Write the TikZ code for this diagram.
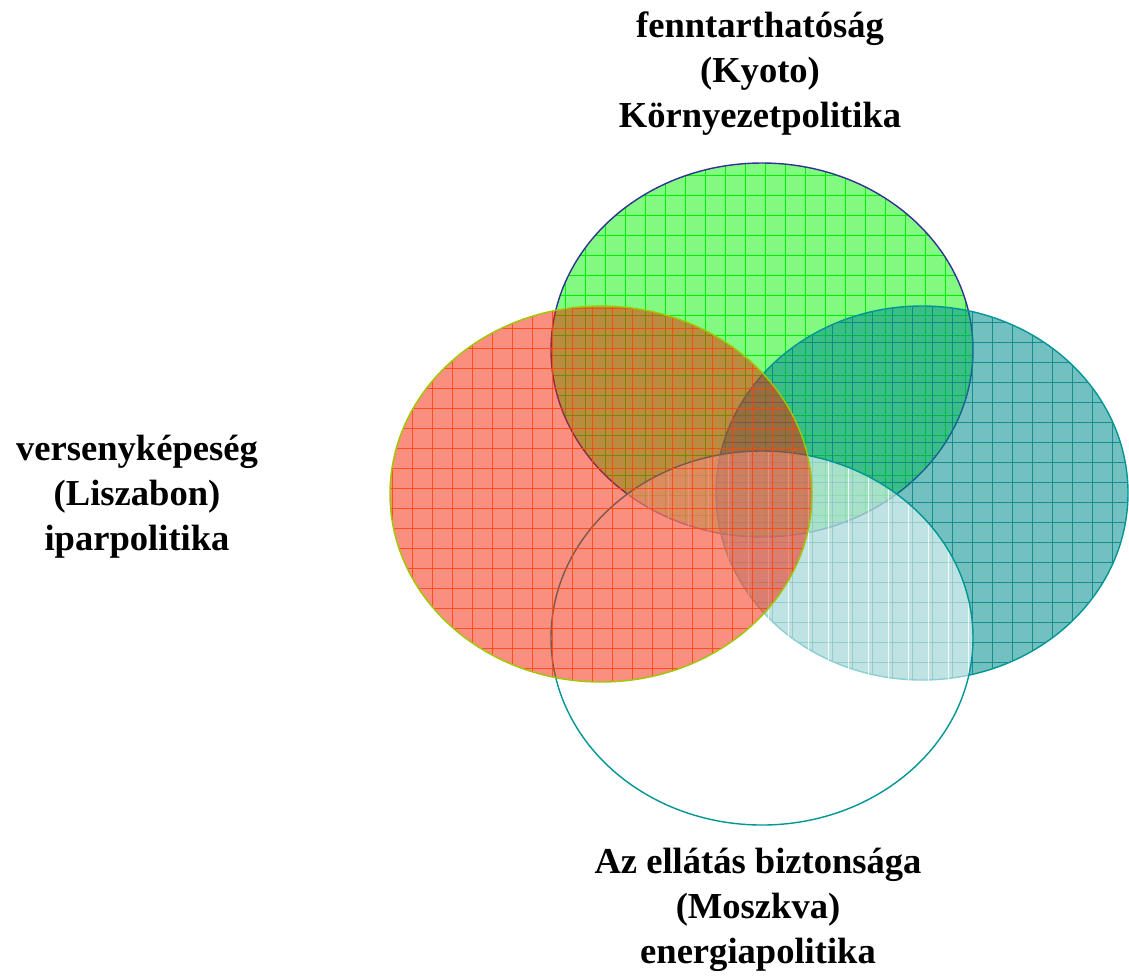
\documentclass[tikz,border=0pt]{standalone}
\usepackage{fontspec}
\setmainfont{Liberation Serif}
\usetikzlibrary{positioning}

\definecolor{kyotoFill}{RGB}{130,250,130}
\definecolor{kyotoGrid}{RGB}{0,238,0}
\definecolor{kyotoEdge}{RGB}{50,50,150}
\definecolor{lisFill}{RGB}{245,30,0}
\definecolor{lisGrid}{RGB}{255,70,10}
\definecolor{lisEdge}{RGB}{160,200,0}
\definecolor{tealFill}{RGB}{0,140,140}
\definecolor{tealGrid}{RGB}{0,130,130}
\definecolor{tealEdge}{RGB}{0,150,150}

\begin{document}
\begin{tikzpicture}[x=0.025cm, y=-0.025cm,
  policy/.style={font=\fontsize{26}{32}\selectfont\bfseries, align=center},
  edge/.style={line width=1pt}]
\useasboundingbox (0,0) rectangle (1129,976);

% === GREEN: fenntarthatosag ===
\fill[kyotoFill] (762,350) ellipse (211 and 187);
\begin{scope}
  \clip (762,350) ellipse (211 and 187);
  \foreach \g in {0,20,...,440} {
    \draw[kyotoGrid, line width=0.6pt] (545+\g,155) -- +(0,400);
    \draw[kyotoGrid, line width=0.6pt] (545,155+\g) -- +(440,0);
  }
\end{scope}
\draw[edge, kyotoEdge] (762,350) ellipse (211 and 187);

% === TEAL: right ===
\begin{scope}
  \fill[tealFill, opacity=0.55] (922,493) ellipse (206 and 187);
  \clip (922,493) ellipse (206 and 187);
  \foreach \g in {0,20,...,440} {
    \draw[tealGrid, opacity=0.8, line width=0.6pt] (712+\g,300) -- +(0,400);
    \draw[tealGrid, opacity=0.8, line width=0.6pt] (710,302+\g) -- +(440,0);
  }
\end{scope}
\draw[edge, tealEdge] (922,493) ellipse (206 and 187);

% === BOTTOM: ellatas biztonsaga ===
\begin{scope}
  \fill[white, opacity=0.55] (762,638) ellipse (211 and 187);
  \clip (762,638) ellipse (211 and 187);
  \foreach \g in {0,20,...,440} {
    \draw[white, opacity=0.8, line width=0.6pt] (548+\g,445) -- +(0,400);
  }
\end{scope}
\draw[edge, tealEdge] (762,638) ellipse (211 and 187);

% === RED: versenykepesseg ===
\begin{scope}
  \fill[lisFill, opacity=0.5] (601,494) ellipse (211 and 188);
  \clip (601,494) ellipse (211 and 188);
  \foreach \g in {0,20,...,440} {
    \draw[lisGrid, opacity=0.85, line width=0.6pt] (392+\g,300) -- +(0,400);
    \draw[lisGrid, opacity=0.85, line width=0.6pt] (385,308+\g) -- +(440,0);
  }
\end{scope}
\draw[edge, lisEdge] (601,494) ellipse (211 and 188);

% === LABELS ===
\node[policy] (kyoto) at (760,74) {fenntarthatóság\\(Kyoto)\\Környezetpolitika};
\node[policy] (liszabon) at (137,497) {versenyképeség\\(Liszabon)\\iparpolitika};
\node[policy] (moszkva) at (758,910) {Az ellátás biztonsága\\(Moszkva)\\energiapolitika};

\end{tikzpicture}
\end{document}
